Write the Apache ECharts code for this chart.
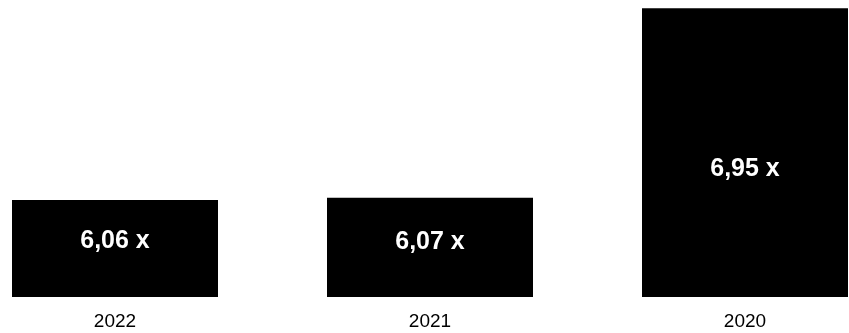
<!DOCTYPE html>
<html>
<head>
<meta charset="utf-8">
<script src="https://cdn.jsdelivr.net/npm/echarts@6/dist/echarts.min.js"></script>
<style>
html,body{margin:0;padding:0;background:#fff;}
#chart{width:849px;height:333px;}
</style>
</head>
<body>
<div id="chart"></div>
<script>
const categories = ['2022', '2021', '2020'];
const values = [6.06, 6.07, 6.95];
const labelOffsets = [[0, -7], [0, -5], [0, 17]];

const chart = echarts.init(document.getElementById('chart'), null, {renderer: 'canvas'});
chart.setOption({
  animation: false,
  backgroundColor: '#ffffff',
  grid: {left: 115, right: 104, top: 6, bottom: 36, containLabel: false},
  xAxis: {
    type: 'category',
    data: categories,
    boundaryGap: false,
    axisLine: {show: false},
    axisTick: {show: false},
    axisLabel: {
      color: '#000',
      fontFamily: 'Liberation Sans, Arial, sans-serif',
      fontSize: 19,
      margin: 15
    }
  },
  yAxis: {
    type: 'value',
    min: 5.61,
    max: 6.96,
    show: false,
    splitLine: {show: false}
  },
  series: [{
    type: 'bar',
    barWidth: 206,
    data: values.map((v, i) => ({value: v, label: {offset: labelOffsets[i]}})),
    itemStyle: {color: '#000'},
    label: {
      show: true,
      position: 'inside',
      color: '#fff',
      fontFamily: 'Liberation Sans, Arial, sans-serif',
      fontWeight: 'bold',
      fontSize: 25,
      formatter: p => p.value.toFixed(2).replace('.', ',') + ' x'
    }
  }]
});
</script>
</body>
</html>
